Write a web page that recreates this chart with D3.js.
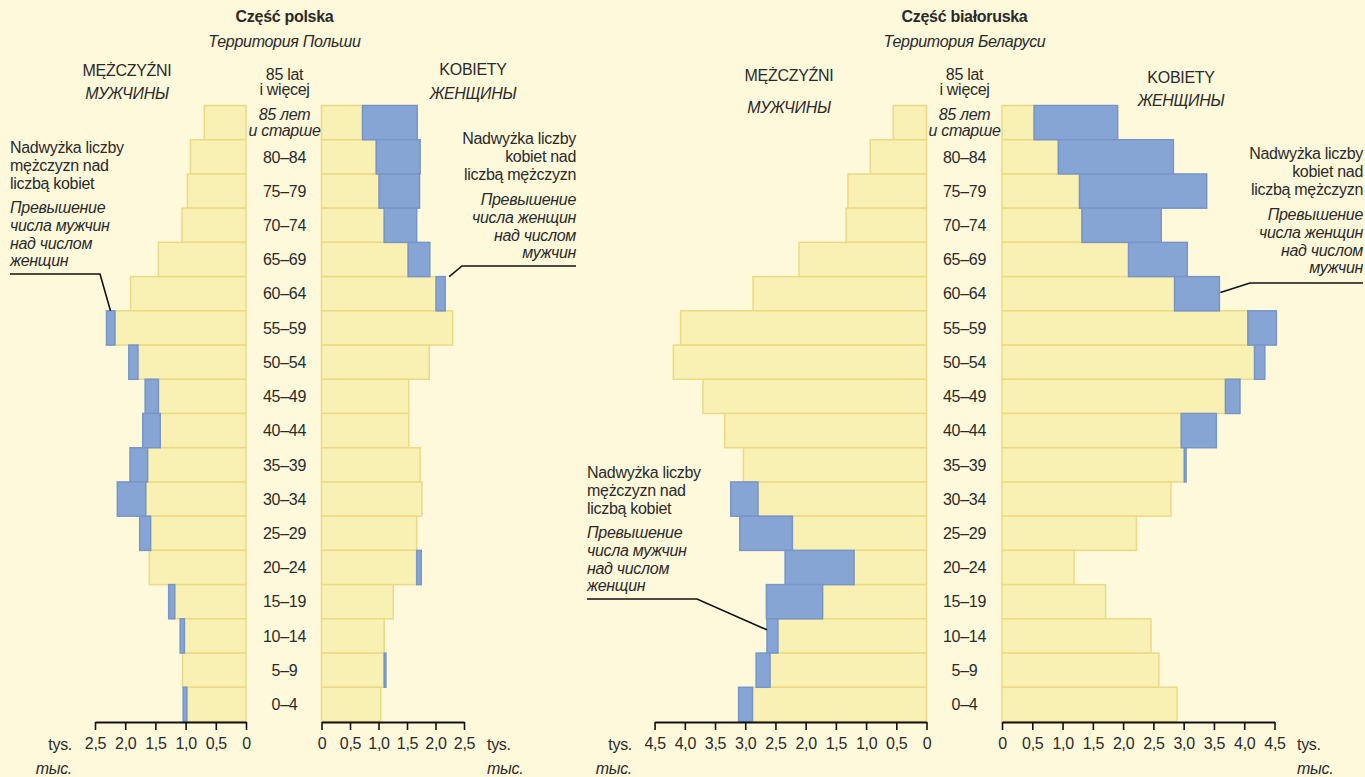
<!DOCTYPE html>
<html>
<head>
<meta charset="utf-8">
<script src="https://cdn.jsdelivr.net/npm/d3@7"></script>
<style>
  body { margin: 0; background: #fff9dc; }
  svg { display: block; font-family: "Liberation Sans", Arial, sans-serif; letter-spacing: -0.3px; }
  text { fill: #2a2a2a; }
</style>
</head>
<body>
<svg id="chart" width="1365" height="777"></svg>
<script>
// age groups, oldest at the top
const ageGroups = ["85+", "80–84", "75–79", "70–74", "65–69", "60–64", "55–59", "50–54", "45–49",
  "40–44", "35–39", "30–34", "25–29", "20–24", "15–19", "10–14", "5–9", "0–4"];

// Część polska (thousands): yellow part and full length of each side
const plMenBase    = [0.69, 0.92, 0.97, 1.06, 1.45, 1.91, 2.17, 1.79, 1.45, 1.42, 1.63, 1.66, 1.58, 1.60, 1.18, 1.02, 1.05, 0.98];
const plMenTotal   = [0.69, 0.92, 0.97, 1.06, 1.45, 1.91, 2.31, 1.94, 1.67, 1.71, 1.92, 2.13, 1.76, 1.60, 1.28, 1.09, 1.05, 1.04];
const plWomenBase  = [0.72, 0.96, 1.01, 1.10, 1.52, 2.01, 2.30, 1.89, 1.53, 1.53, 1.73, 1.76, 1.67, 1.67, 1.26, 1.10, 1.10, 1.04];
const plWomenTotal = [1.68, 1.73, 1.72, 1.67, 1.90, 2.17, 2.30, 1.89, 1.53, 1.53, 1.73, 1.76, 1.67, 1.75, 1.26, 1.10, 1.13, 1.04];

// Część białoruska (thousands)
const byMenBase    = [0.55, 0.93, 1.30, 1.33, 2.11, 2.87, 4.07, 4.19, 3.70, 3.34, 3.03, 2.79, 2.22, 1.20, 1.72, 2.46, 2.59, 2.88];
const byMenTotal   = [0.55, 0.93, 1.30, 1.33, 2.11, 2.87, 4.07, 4.19, 3.70, 3.34, 3.03, 3.24, 3.09, 2.34, 2.65, 2.64, 2.82, 3.11];
const byWomenBase  = [0.53, 0.93, 1.28, 1.32, 2.09, 2.85, 4.06, 4.17, 3.69, 2.96, 3.01, 2.79, 2.22, 1.19, 1.71, 2.46, 2.59, 2.89];
const byWomenTotal = [1.91, 2.83, 3.38, 2.63, 3.06, 3.59, 4.53, 4.34, 3.93, 3.54, 3.04, 2.79, 2.22, 1.19, 1.71, 2.46, 2.59, 2.89];

const plTicks = [0, 0.5, 1, 1.5, 2, 2.5];
const byTicks = [0, 0.5, 1, 1.5, 2, 2.5, 3, 3.5, 4, 4.5];

const topLabelPl = ["85 lat", "i więcej"];
const topLabelRu = ["85 лет", "и старше"];
const menSurplusPl = ["Nadwyżka liczby", "mężczyzn nad", "liczbą kobiet"];
const menSurplusRu = ["Превышение", "числа мужчин", "над числом", "женщин"];
const womenSurplusPl = ["Nadwyżka liczby", "kobiet nad", "liczbą mężczyzn"];
const womenSurplusRu = ["Превышение", "числа женщин", "над числом", "мужчин"];

const FS = 16;
const axisY = 722;
const yellow = "#f9f0b3", yellowLine = "#ecd985";
const blue = "#87a5d4", blueLine = "#7795c7";

const svg = d3.select("#chart");
svg.append("rect").attr("width", 1365).attr("height", 777).attr("fill", "#fff9dc");

const y = d3.scaleBand().domain(ageGroups).range([105.5, 721.5]);
const fmt = d => d === 0 ? "0" : d3.format(".1f")(d).replace(".", ",");

function lines(g, arr, x, y0, step, anchor, italic) {
  arr.forEach((t, i) => {
    g.append("text").attr("x", x).attr("y", y0 + i * step)
      .attr("text-anchor", anchor).attr("font-size", FS)
      .attr("font-style", italic ? "italic" : null).text(t);
  });
}

function drawPyramid(p) {
  const g = svg.append("g");
  const xMen = d3.scaleLinear().domain([0, p.max]).range(p.menRange);
  const xWomen = d3.scaleLinear().domain([0, p.max]).range(p.womenRange);
  const rows = ageGroups.map((a, i) => ({
    age: a, mb: p.menBase[i], mt: p.menTotal[i], wb: p.womenBase[i], wt: p.womenTotal[i]
  }));

  // yellow (common part)
  g.selectAll(".ym").data(rows).join("rect")
    .attr("x", d => xMen(d.mb)).attr("y", d => y(d.age))
    .attr("width", d => xMen(0) - xMen(d.mb)).attr("height", y.bandwidth())
    .attr("fill", yellow).attr("stroke", yellowLine).attr("stroke-width", 1.5);
  g.selectAll(".yw").data(rows).join("rect")
    .attr("x", xWomen(0)).attr("y", d => y(d.age))
    .attr("width", d => xWomen(d.wb) - xWomen(0)).attr("height", y.bandwidth())
    .attr("fill", yellow).attr("stroke", yellowLine).attr("stroke-width", 1.5);

  // blue (surplus)
  g.selectAll(".bm").data(rows.filter(d => d.mt > d.mb)).join("rect")
    .attr("x", d => xMen(d.mt)).attr("y", d => y(d.age))
    .attr("width", d => xMen(d.mb) - xMen(d.mt)).attr("height", y.bandwidth())
    .attr("fill", blue).attr("stroke", blueLine).attr("stroke-width", 1.5);
  g.selectAll(".bw").data(rows.filter(d => d.wt > d.wb)).join("rect")
    .attr("x", d => xWomen(d.wb)).attr("y", d => y(d.age))
    .attr("width", d => xWomen(d.wt) - xWomen(d.wb)).attr("height", y.bandwidth())
    .attr("fill", blue).attr("stroke", blueLine).attr("stroke-width", 1.5);

  // age labels
  g.selectAll(".age").data(ageGroups.slice(1)).join("text")
    .attr("x", p.mid).attr("y", d => y(d) + y.bandwidth() / 2).attr("dy", "0.36em")
    .attr("text-anchor", "middle").attr("font-size", FS).text(d => d);
  lines(g, topLabelRu, p.mid, y("85+") + 14.5, 15.5, "middle", true);
  lines(g, topLabelPl, p.mid, 79.5, 15.5, "middle", false);

  // axes
  [xMen, xWomen].forEach(sc => {
    const ax = g.append("g").attr("transform", `translate(0,${axisY})`)
      .call(d3.axisBottom(sc).tickValues(p.ticks).tickSize(8).tickSizeOuter(0).tickPadding(8).tickFormat(fmt));
    ax.attr("font-family", null).attr("font-size", FS);
    ax.select(".domain").attr("stroke", "#111").attr("stroke-width", 2);
    ax.selectAll(".tick line").attr("stroke", "#111").attr("stroke-width", 1.6);
    ax.selectAll(".tick text").attr("fill", "#2a2a2a");
  });
  lines(g, ["tys."], p.unitMenX, 750, 0, "end", false);
  lines(g, ["тыс."], p.unitMenX, 774, 0, "end", true);
  lines(g, ["tys."], p.unitWomenX, 750, 0, "start", false);
  lines(g, ["тыс."], p.unitWomenX, 774, 0, "start", true);

  // titles
  g.append("text").attr("x", p.mid).attr("y", 22).attr("text-anchor", "middle")
    .attr("font-size", FS).attr("font-weight", "bold").text(p.title);
  g.append("text").attr("x", p.mid).attr("y", 47).attr("text-anchor", "middle")
    .attr("font-size", FS).attr("font-style", "italic").text(p.subtitle);
  lines(g, ["MĘŻCZYŹNI"], p.menHead[0], p.menHead[1], 0, "middle", false);
  lines(g, ["МУЖЧИНЫ"], p.menHead[0], p.menHead[2], 0, "middle", true);
  lines(g, ["KOBIETY"], p.womenHead[0], p.womenHead[1], 0, "middle", false);
  lines(g, ["ЖЕНЩИНЫ"], p.womenHead[0], p.womenHead[2], 0, "middle", true);

  // annotations with leader lines
  const m = p.menNote, w = p.womenNote;
  lines(g, menSurplusPl, m.x, m.y, 17.8, "start", false);
  lines(g, menSurplusRu, m.x, m.y + 60, 17.8, "start", true);
  const mi = ageGroups.indexOf(m.age);
  g.append("path").attr("fill", "none").attr("stroke", "#111").attr("stroke-width", 1.6)
    .attr("d", d3.line()([[m.x, m.lineY], [m.elbow, m.lineY],
      [xMen(p.menTotal[mi]) + m.dx, y(m.age) + m.dy]]));
  lines(g, womenSurplusPl, w.x, w.y, 17.8, "end", false);
  lines(g, womenSurplusRu, w.x, w.y + 61, 17.8, "end", true);
  const wi = ageGroups.indexOf(w.age);
  g.append("path").attr("fill", "none").attr("stroke", "#111").attr("stroke-width", 1.6)
    .attr("d", d3.line()([[w.x, w.lineY], [w.elbow, w.lineY],
      [xWomen(p.womenTotal[wi]) + w.dx, y(w.age) + w.dy]]));
}

drawPyramid({
  title: "Część polska", subtitle: "Территория Польши",
  menBase: plMenBase, menTotal: plMenTotal, womenBase: plWomenBase, womenTotal: plWomenTotal,
  max: 2.5, ticks: plTicks, menRange: [246, 95], womenRange: [321.5, 464], mid: 284.5,
  unitMenX: 72, unitWomenX: 487,
  menHead: [127, 76, 99], womenHead: [473, 75, 99],
  menNote: { x: 10, y: 153, lineY: 274, elbow: 100, age: "55–59", dx: 4, dy: 0 },
  womenNote: { x: 576, y: 144, lineY: 266, elbow: 462, age: "60–64", dx: 4, dy: 0 }
});

drawPyramid({
  title: "Część białoruska", subtitle: "Территория Беларуси",
  menBase: byMenBase, menTotal: byMenTotal, womenBase: byWomenBase, womenTotal: byWomenTotal,
  max: 4.5, ticks: byTicks, menRange: [926.5, 654.6], womenRange: [1002, 1274.5], mid: 964.5,
  unitMenX: 632, unitWomenX: 1297,
  menHead: [789, 81, 113], womenHead: [1181, 83, 106],
  menNote: { x: 587, y: 478, lineY: 599, elbow: 697, age: "10–14", dx: 0, dy: 11 },
  womenNote: { x: 1363, y: 159, lineY: 283, elbow: 1250, age: "60–64", dx: 1, dy: 16 }
});
</script>
</body>
</html>
